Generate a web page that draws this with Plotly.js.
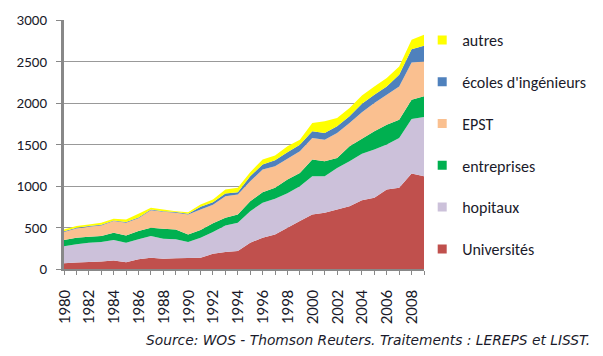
<!DOCTYPE html>
<html>
<head>
<meta charset="utf-8">
<script src="https://cdn.plot.ly/plotly-3.0.1.min.js"></script>
<style>html,body{margin:0;padding:0;background:#fff;}#chart{width:603px;height:356px;}</style>
</head>
<body>
<div id="chart"></div>
<script>
const years = [1980,1981,1982,1983,1984,1985,1986,1987,1988,1989,1990,1991,1992,1993,1994,1995,1996,1997,1998,1999,2000,2001,2002,2003,2004,2005,2006,2007,2008,2009];
const universites = [70,77,85,89,101,80,117,137,125,129,133,137,183,205,217,317,377,417,497,577,657,678,717,757,827,858,958,978,1150,1118];
const hopitaux = [205,220,232,236,248,237,240,260,240,228,192,240,264,320,340,380,421,429,416,421,461,440,501,541,563,581,541,601,658,714];
const entreprises = [75,80,72,72,88,88,100,100,120,120,92,92,104,92,100,120,127,132,165,160,200,180,120,180,180,220,240,220,232,248];
const epst = [95,112,120,128,140,152,154,212,204,200,240,248,222,260,240,240,273,260,250,260,261,260,301,281,320,341,361,401,448,420];
const ecoles = [10,8,8,8,8,8,9,8,8,10,10,32,30,32,28,60,60,72,80,80,80,81,80,80,100,100,100,140,161,189];
const autres = [20,20,20,24,20,32,47,20,20,10,18,28,34,49,53,49,60,56,70,60,100,140,100,101,100,100,100,100,112,132];

const seriesNames = ['Universités','hopitaux','entreprises','EPST',"écoles d'ingénieurs",'autres'];
const seriesValues = [universites, hopitaux, entreprises, epst, ecoles, autres];
const seriesColors = ['#C0504D','#CCC1DA','#00B050','#FAC090','#4F81BD','#FFFF00'];

const traces = [];
seriesNames.forEach((name, i) => {
  traces.push({
    x: years, y: seriesValues[i], type: 'scatter', mode: 'none',
    stackgroup: 'one', fillcolor: seriesColors[i], name: name,
    showlegend: false, hoverinfo: 'x+y+name'
  });
});
// legend entries, top to bottom: autres ... Universités
for (let i = seriesNames.length - 1; i >= 0; i--) {
  traces.push({
    x: [null], y: [null], type: 'scatter', mode: 'markers',
    marker: {symbol: 'square', size: 9, color: seriesColors[i]},
    name: seriesNames[i], legendgroup: 'g' + i, showlegend: true
  });
}

const fontFam = 'Carlito, Lato, "Open Sans", sans-serif';
const layout = {
  width: 603, height: 356,
  margin: {l: 64, r: 175, t: 20, b: 87},
  paper_bgcolor: '#fff', plot_bgcolor: '#fff',
  showlegend: true,
  legend: {
    x: 0.995, xanchor: 'left', y: 0.988, yanchor: 'top',
    traceorder: 'grouped', tracegroupgap: 18,
    font: {family: fontFam, size: 16, color: '#1a1a2a'},
    itemwidth: 30, bgcolor: 'rgba(0,0,0,0)'
  },
  xaxis: {
    range: [1980, 2009], tickmode: 'linear', tick0: 1980, dtick: 2,
    tickangle: -90, ticks: 'outside', ticklen: 4, tickcolor: '#888',
    minor: {dtick: 1, ticks: 'outside', ticklen: 4, tickcolor: '#888'},
    showline: true, linecolor: '#888', linewidth: 2,
    showgrid: false, zeroline: false, ticklabelstandoff: 8,
    tickfont: {family: fontFam, size: 17, color: '#1a1a2a'}
  },
  yaxis: {
    range: [0, 3000], dtick: 500, tick0: 0,
    ticks: 'outside', ticklen: 5, tickcolor: '#888', ticklabelstandoff: 6,
    showline: true, linecolor: '#888', linewidth: 3,
    showgrid: true, gridcolor: '#999', gridwidth: 1, zeroline: false,
    tickfont: {family: fontFam, size: 15, color: '#1a1a2a'}
  },
  annotations: [{
    text: 'Source: WOS - Thomson Reuters. Traitements : LEREPS et LISST.',
    xref: 'paper', yref: 'paper', x: 1.467, y: -0.285,
    xanchor: 'right', yanchor: 'middle', showarrow: false,
    font: {family: '"DejaVu Sans", sans-serif', size: 13.8, color: '#1a1a2a', style: 'italic'}
  }]
};

Plotly.newPlot('chart', traces, layout, {displayModeBar: false, staticPlot: true});
</script>
</body>
</html>
